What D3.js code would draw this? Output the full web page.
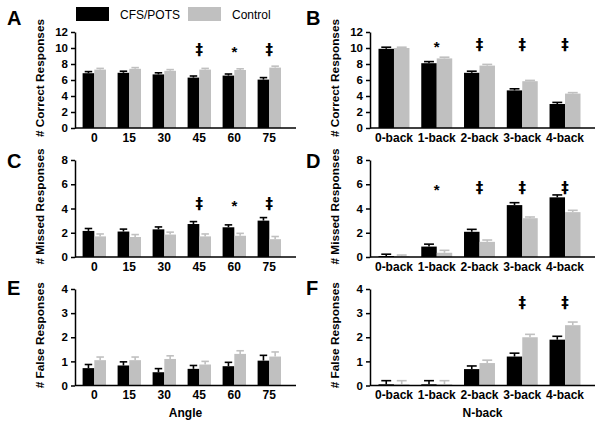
<!DOCTYPE html>
<html><head><meta charset="utf-8">
<script src="https://cdn.jsdelivr.net/npm/d3@7"></script>
<style>body{margin:0;background:#fff}svg{display:block}text{font-family:"Liberation Sans",Arial,sans-serif}</style>
</head><body>
<svg id="c" width="601" height="427"></svg>
<script>
const angles = ["0","15","30","45","60","75"];
const nbacks = ["0-back","1-back","2-back","3-back","4-back"];
const seriesNames = ["CFS/POTS","Control"];
const seriesColors = ["#000000","#c0c0c0"];

// A: correct responses by angle
const correctAngleCFS = [6.85,6.9,6.7,6.3,6.55,6.05];
const correctAngleCFSErr = [0.2,0.2,0.2,0.2,0.2,0.25];
const correctAngleCtrl = [7.3,7.4,7.15,7.3,7.25,7.55];
const correctAngleCtrlErr = [0.15,0.15,0.15,0.15,0.15,0.18];
// B: correct responses by n-back
const correctNbackCFS = [9.9,8.1,6.9,4.7,3.0];
const correctNbackCFSErr = [0.2,0.2,0.2,0.2,0.2];
const correctNbackCtrl = [10.0,8.7,7.8,5.85,4.3];
const correctNbackCtrlErr = [0.1,0.15,0.15,0.1,0.12];
// C: missed by angle
const missedAngleCFS = [2.15,2.1,2.28,2.72,2.45,3.0];
const missedAngleCFSErr = [0.2,0.2,0.2,0.2,0.2,0.25];
const missedAngleCtrl = [1.7,1.65,1.85,1.7,1.75,1.47];
const missedAngleCtrlErr = [0.2,0.2,0.2,0.2,0.2,0.22];
// D: missed by n-back
const missedNbackCFS = [0.08,0.86,2.08,4.28,4.92];
const missedNbackCFSErr = [0.15,0.2,0.2,0.2,0.2];
const missedNbackCtrl = [0.06,0.35,1.25,3.2,3.7];
const missedNbackCtrlErr = [0.1,0.2,0.15,0.1,0.15];
// E: false by angle
const falseAngleCFS = [0.72,0.83,0.55,0.69,0.8,1.03];
const falseAngleCFSErr = [0.15,0.15,0.15,0.14,0.16,0.22];
const falseAngleCtrl = [1.05,1.05,1.1,0.87,1.31,1.2];
const falseAngleCtrlErr = [0.13,0.13,0.13,0.13,0.13,0.19];
// F: false by n-back
const falseNbackCFS = [0.05,0.05,0.68,1.2,1.9];
const falseNbackCFSErr = [0.15,0.15,0.13,0.14,0.14];
const falseNbackCtrl = [0.05,0.05,0.93,2.0,2.5];
const falseNbackCtrlErr = [0.15,0.15,0.12,0.12,0.13];

const markersAngle = ["","","","‡","*","‡"];
const markersNback = ["","*","‡","‡","‡"];
const markersNbackF = ["","","","‡","‡"];
const markersNone = ["","","","","",""];

const yTicks12 = [0,2,4,6,8,10,12];
const yTicks8 = [0,2,4,6,8];
const yTicks4 = [0,1,2,3,4];

const svg = d3.select("#c");

function panel(o){
  const g = svg.append("g");
  const x = d3.scaleBand().domain(o.cats).range(o.xr).padding(0);
  const inner = d3.scaleBand().domain(seriesNames).range([o.gm, x.bandwidth()-o.gm]).padding(0);
  const y = d3.scaleLinear().domain([0,o.ymax]).range(o.yr);
  const vals = [o.a, o.b], errs = [o.ae, o.be];
  seriesNames.forEach((s,si)=>{
    const data = o.cats.map((c,i)=>({c, v:vals[si][i], e:errs[si][i]}));
    const bw = inner.bandwidth();
    const gg = g.append("g");
    gg.selectAll("rect").data(data).join("rect")
      .attr("x", d=>x(d.c)+inner(s)).attr("width", bw)
      .attr("y", d=>y(d.v)).attr("height", d=>y(0)-y(d.v))
      .attr("fill", seriesColors[si]);
    gg.selectAll("line.v").data(data).join("line").attr("class","v")
      .attr("x1", d=>x(d.c)+inner(s)+bw/2).attr("x2", d=>x(d.c)+inner(s)+bw/2)
      .attr("y1", d=>y(d.v)).attr("y2", d=>y(d.v+d.e))
      .attr("stroke", seriesColors[si]).attr("stroke-width",1.6);
    gg.selectAll("line.cap").data(data).join("line").attr("class","cap")
      .attr("x1", d=>x(d.c)+inner(s)+bw*0.18).attr("x2", d=>x(d.c)+inner(s)+bw*0.82)
      .attr("y1", d=>y(d.v+d.e)).attr("y2", d=>y(d.v+d.e))
      .attr("stroke", seriesColors[si]).attr("stroke-width",1.6);
  });
  // markers
  g.selectAll("text.mk").data(o.cats.map((c,i)=>({c,m:o.marks[i]})).filter(d=>d.m)).join("text")
    .attr("class","mk").attr("x", d=>x(d.c)+x.bandwidth()/2).attr("y", d=>y(o.markY)+(d.m==="*"?2:0))
    .attr("text-anchor","middle").attr("font-size",15).attr("font-weight","bold")
    .attr("fill","#000")
    .style("font-family",d=>d.m==="*"?'"Liberation Sans",Arial,sans-serif':'"DejaVu Sans",sans-serif')
    .text(d=>d.m);
  // y axis
  const ya = g.append("g").attr("transform",`translate(${o.ax},0)`)
    .call(d3.axisLeft(y).tickValues(o.yt).tickFormat(d3.format("d")).tickSize(4).tickPadding(3).tickSizeOuter(0));
  ya.select(".domain").attr("stroke","#000").attr("stroke-width",1.5);
  ya.selectAll(".tick line").attr("stroke","#000").attr("stroke-width",1.5);
  ya.selectAll("text").attr("font-size",11.5).attr("font-weight","bold").attr("fill","#000")
    .attr("font-family",'"Liberation Sans",Arial,sans-serif');
  // x axis line
  g.append("line").attr("x1",o.ax).attr("x2",o.xend).attr("y1",y(0)).attr("y2",y(0))
    .attr("stroke","#000").attr("stroke-width",1.5);
  g.selectAll("text.xt").data(o.cats).join("text").attr("class","xt")
    .attr("x", d=>x(d)+x.bandwidth()/2).attr("y", y(0)+13.5)
    .attr("text-anchor","middle").attr("font-size",12).attr("font-weight","bold").text(d=>d);
  // y title
  const cy = (o.yr[0]+o.yr[1])/2 - 2;
  g.append("text").attr("transform",`translate(${o.ax-31},${cy}) rotate(-90)`)
    .attr("text-anchor","middle").attr("font-size",11.8).attr("font-weight","bold").text(o.ytitle);
  // panel letter
  g.append("text").attr("x",o.lx).attr("y",o.ly).attr("font-size",20).attr("font-weight","bold").text(o.letter);
  if(o.xtitle){
    g.append("text").attr("x",(o.ax+o.xend)/2).attr("y",y(0)+31).attr("text-anchor","middle")
      .attr("font-size",12).attr("font-weight","bold").text(o.xtitle);
  }
}

const L = {xr:[76.8,286.8], gm:5.8, ax:75, xend:296, lx:7, cats:angles};
const R = {xr:[372.6,586.4], gm:5.9, ax:370, xend:595, lx:306, cats:nbacks};

panel({...L, a:correctAngleCFS, ae:correctAngleCFSErr, b:correctAngleCtrl, be:correctAngleCtrlErr,
  ymax:12, yr:[128,32], yt:yTicks12, marks:markersAngle, markY:9.15, ytitle:"# Correct Responses", letter:"A", ly:25});
panel({...R, a:correctNbackCFS, ae:correctNbackCFSErr, b:correctNbackCtrl, be:correctNbackCtrlErr,
  ymax:12, yr:[128,32], yt:yTicks12, marks:markersNback, markY:9.75, ytitle:"# Correct Responses", letter:"B", ly:25});
panel({...L, a:missedAngleCFS, ae:missedAngleCFSErr, b:missedAngleCtrl, be:missedAngleCtrlErr,
  ymax:8, yr:[257,160], yt:yTicks8, marks:markersAngle, markY:3.98, ytitle:"# Missed Responses", letter:"C", ly:168});
panel({...R, a:missedNbackCFS, ae:missedNbackCFSErr, b:missedNbackCtrl, be:missedNbackCtrlErr,
  ymax:8, yr:[257,160], yt:yTicks8, marks:markersNback, markY:5.27, ytitle:"# Missed Responses", letter:"D", ly:168});
panel({...L, a:falseAngleCFS, ae:falseAngleCFSErr, b:falseAngleCtrl, be:falseAngleCtrlErr,
  ymax:4, yr:[385.5,289], yt:yTicks4, marks:markersNone, markY:3.5, ytitle:"# False Responses", letter:"E", ly:295, xtitle:"Angle"});
panel({...R, a:falseNbackCFS, ae:falseNbackCFSErr, b:falseNbackCtrl, be:falseNbackCtrlErr,
  ymax:4, yr:[385.5,289], yt:yTicks4, marks:markersNbackF, markY:3.2, ytitle:"# False Responses", letter:"F", ly:295, xtitle:"N-back"});

// legend
const leg = svg.append("g");
const legX = [76,188], legTX = [120,232];
seriesNames.forEach((s,i)=>{
  leg.append("rect").attr("x",legX[i]).attr("y",7).attr("width",33).attr("height",14).attr("fill",seriesColors[i]);
  leg.append("text").attr("x",legTX[i]).attr("y",19).attr("font-size",12).text(s);
});
</script>
</body></html>
